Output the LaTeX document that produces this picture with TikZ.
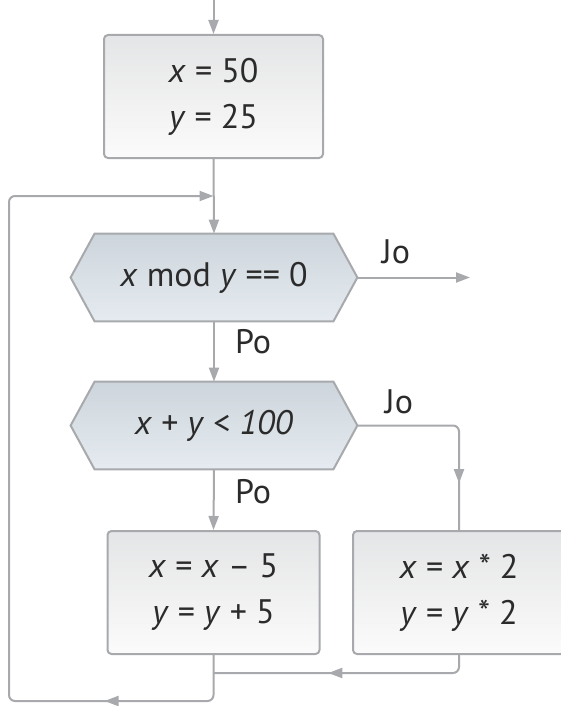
\documentclass[tikz,border=0pt]{standalone}
\usepackage{fontspec}
\setmainfont{PT Sans}
\usepackage{tikz}
\usetikzlibrary{arrows.meta, backgrounds, decorations.markings}

\definecolor{linegray}{HTML}{A7A9AC}
\definecolor{boxtop}{HTML}{E4E5E6}
\definecolor{boxbot}{HTML}{FBFBFB}
\definecolor{hextop}{HTML}{CDD5DC}
\definecolor{hexbot}{HTML}{E5EBF0}
\definecolor{textgray}{HTML}{2B2B2B}

\tikzset{
  flow/.style={draw=linegray, line width=1pt, rounded corners=3pt},
  tip/.style={-{Triangle[length=7pt,width=5pt]}},
  midtip/.style={postaction={decorate}, decoration={markings,
      mark=at position #1 with {\arrow{Triangle[length=7pt,width=5pt]}}}},
  stepbox/.style={draw=linegray, line width=1pt, rounded corners=2pt,
      top color=boxtop, bottom color=boxbot, align=center, inner sep=0pt,
      minimum width=106pt, minimum height=61.5pt},
  testbox/.style={inner sep=0pt, minimum width=143pt, minimum height=43.5pt},
  lbl/.style={inner sep=0pt}
}

\begin{document}
\begin{tikzpicture}[x=0.5pt, y=-0.5pt, font=\fontsize{17}{23}\selectfont, text=textgray]
\useasboundingbox (0,0) rectangle (561,706);
\node[stepbox, minimum width=109.5pt] (init) at (213.5,96.5) {\textit{x} = 50\\\textit{y} = 25};
\node[testbox] (modtest) at (214,277.5) {\textit{x} mod \textit{y} == 0};
\node[testbox] (sumtest) at (214,425.5) {\textit{x} + \textit{y} < \textit{100}};
\node[stepbox] (dec) at (213.5,592.5) {\textit{x} = \textit{x} – 5\\\textit{y} = \textit{y} + 5};
\node[stepbox] (dbl) at (459,592.5) {\textit{x} = \textit{x} * 2\\\textit{y} = \textit{y} * 2};

\begin{scope}[on background layer]
\foreach \t in {modtest, sumtest}
  \shadedraw[top color=hextop, bottom color=hexbot, draw=linegray, line width=1pt]
    ([xshift=12pt]\t.north west) -- ([xshift=-12pt]\t.north east) -- (\t.east)
    -- ([xshift=-12pt]\t.south east) -- ([xshift=12pt]\t.south west) -- (\t.west) -- cycle;
\end{scope}

\node[lbl] (yes1) at (396,252) {Jo};
\node[lbl] (no1) at (253,342) {Po};
\node[lbl] (yes2) at (399,402) {Jo};
\node[lbl] (no2) at (253,492) {Po};

\coordinate (entry) at (213.5,0);
\coordinate (join) at (213.5,196);
\coordinate (exit) at (470,277.5);
\coordinate (merge) at (213.5,673);
\coordinate (low) at (213.5,701);
\coordinate (corner) at (9,701);

\draw[flow, tip] (entry) -- (init.north);
\draw[flow, tip] (init.south) -- (modtest.north);
\draw[flow, tip] (modtest.east) -- (exit);
\draw[flow, tip] (modtest.south) -- (sumtest.north);
\draw[flow, tip] (sumtest.south) -- (dec.north);
\draw[flow, midtip=0.77] (sumtest.east) -| (dbl.north);
\draw[flow, midtip=0.56] (dbl.south) |- (merge);
\draw[flow, tip, midtip=0.16] (dec.south) -- (low) -- (corner) |- (join);
\end{tikzpicture}
\end{document}
